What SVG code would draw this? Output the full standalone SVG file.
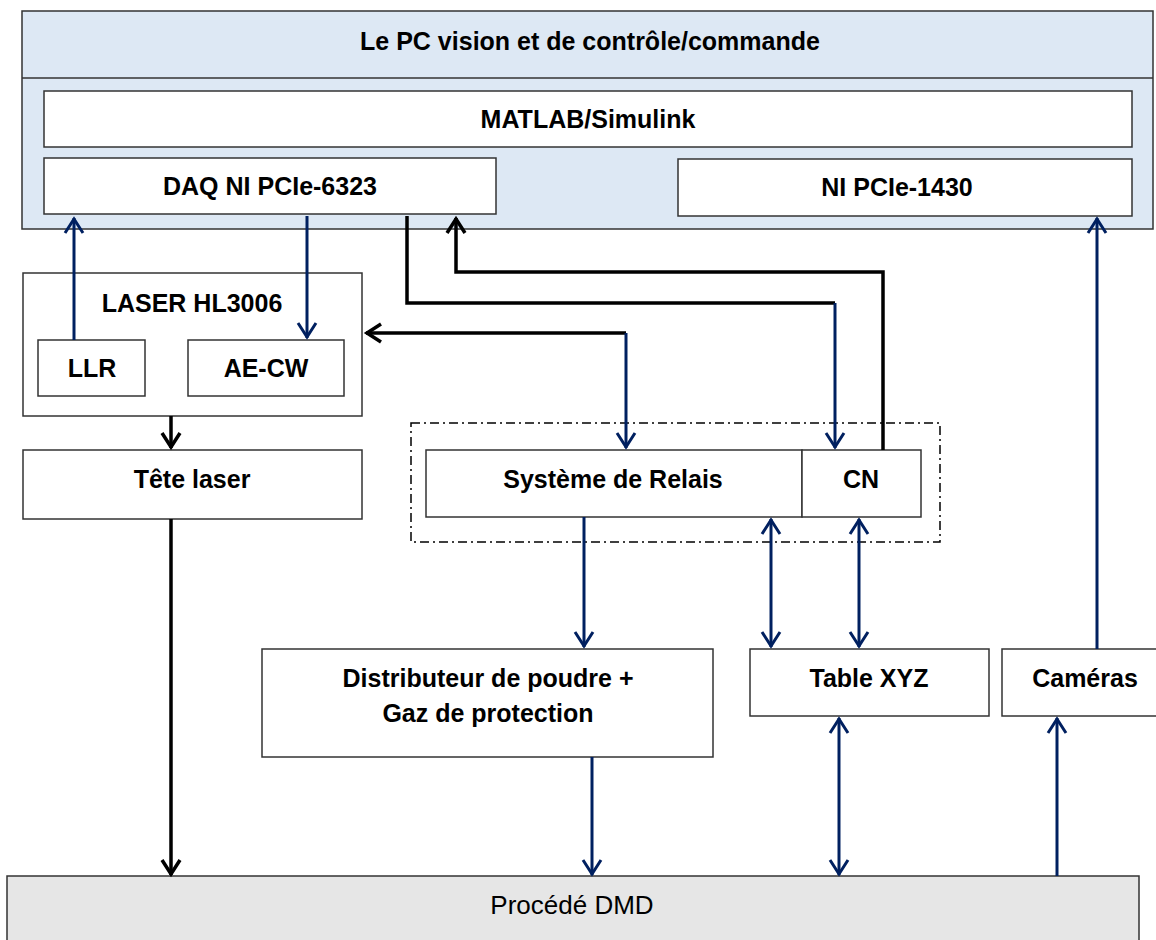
<svg xmlns="http://www.w3.org/2000/svg" width="1156" height="940" viewBox="0 0 1156 940">
<style>
.box{fill:#ffffff;stroke:#333333;stroke-width:1.5}
.lbl{font-family:"Liberation Sans",Arial,sans-serif;font-weight:bold;font-size:25px;fill:#000000;text-anchor:middle}
.reg{font-family:"Liberation Sans",Arial,sans-serif;font-size:26px;fill:#000000;text-anchor:middle}
.bl{fill:none;stroke:#002060;stroke-width:3}
.bk{fill:none;stroke:#000000;stroke-width:3.5}
</style>
<defs>
<marker id="ab" markerUnits="userSpaceOnUse" markerWidth="40" markerHeight="40" viewBox="-20 -20 40 40" refX="1" refY="0" orient="auto-start-reverse" overflow="visible">
<path d="M-14,-9 L0,0 L-14,9" fill="none" stroke="#002060" stroke-width="3"/>
</marker>
<marker id="ak" markerUnits="userSpaceOnUse" markerWidth="40" markerHeight="40" viewBox="-20 -20 40 40" refX="1" refY="0" orient="auto-start-reverse" overflow="visible">
<path d="M-14,-9 L0,0 L-14,9" fill="none" stroke="#000000" stroke-width="3.5"/>
</marker>
</defs>
<rect width="1156" height="940" fill="#ffffff"/>

<g id="pc">
<rect x="22" y="11" width="1131" height="218" fill="#dde8f4" stroke="#333333" stroke-width="1.5"/>
<line x1="22" y1="78" x2="1153" y2="78" stroke="#333333" stroke-width="1.5"/>
<text class="lbl" x="590" y="50">Le PC vision et de contrôle/commande</text>
</g>
<g id="matlab">
<rect class="box" x="44" y="91" width="1088" height="56"/>
<text class="lbl" x="588" y="128">MATLAB/Simulink</text>
</g>
<g id="daq">
<rect class="box" x="44" y="158" width="452" height="56"/>
<text class="lbl" x="270" y="195">DAQ NI PCIe-6323</text>
</g>
<g id="ni1430">
<rect class="box" x="678" y="159" width="454" height="57"/>
<text class="lbl" x="897" y="196">NI PCIe-1430</text>
</g>
<g id="laser">
<rect class="box" x="23" y="273" width="339" height="143"/>
<text class="lbl" x="192" y="312">LASER HL3006</text>
</g>
<g id="llr">
<rect class="box" x="38" y="340" width="107" height="56"/>
<text class="lbl" x="92" y="377">LLR</text>
</g>
<g id="aecw">
<rect class="box" x="188" y="340" width="156" height="56"/>
<text class="lbl" x="266" y="377">AE-CW</text>
</g>
<g id="tete">
<rect class="box" x="23" y="450" width="339" height="69"/>
<text class="lbl" x="192" y="488">Tête laser</text>
</g>
<g id="groupe">
<rect x="411" y="423" width="529" height="119" fill="none" stroke="#000000" stroke-width="1.5" stroke-dasharray="9,4,2,4"/>
</g>
<g id="relais">
<rect class="box" x="426" y="450" width="376" height="67"/>
<text class="lbl" x="613" y="488">Système de Relais</text>
</g>
<g id="cn">
<rect class="box" x="802" y="450" width="119" height="67"/>
<text class="lbl" x="861" y="488">CN</text>
</g>
<g id="distributeur">
<rect class="box" x="262" y="649" width="451" height="108"/>
<text class="lbl" x="488" y="687">Distributeur de poudre +</text>
<text class="lbl" x="488" y="722">Gaz de protection</text>
</g>
<g id="table">
<rect class="box" x="750" y="649" width="239" height="67"/>
<text class="lbl" x="869" y="687">Table XYZ</text>
</g>
<g id="cameras">
<rect class="box" x="1002" y="649" width="170" height="67"/>
<text class="lbl" x="1085" y="687">Caméras</text>
</g>
<g id="dmd">
<rect x="7" y="876" width="1132" height="80" fill="#e6e6e6" stroke="#333333" stroke-width="1.5"/>
<text class="reg" x="572" y="914">Procédé DMD</text>
</g>

<g id="connectors">
<line class="bl" x1="74" y1="340" x2="74" y2="218" marker-end="url(#ab)"/>
<line class="bl" x1="307" y1="216" x2="307" y2="338" marker-end="url(#ab)"/>
<polyline class="bk" points="407,216 407,303 835,303"/>
<line class="bl" x1="835" y1="303" x2="835" y2="448" marker-end="url(#ab)"/>
<polyline class="bk" points="883,450 883,272 456,272 456,218" marker-end="url(#ak)"/>
<line class="bk" x1="626" y1="333" x2="366" y2="333" marker-end="url(#ak)"/>
<line class="bl" x1="626" y1="333" x2="626" y2="448" marker-end="url(#ab)"/>
<line class="bk" x1="171" y1="416" x2="171" y2="448" marker-end="url(#ak)"/>
<line class="bk" x1="171" y1="519" x2="171" y2="875" marker-end="url(#ak)"/>
<line class="bl" x1="584" y1="517" x2="584" y2="647" marker-end="url(#ab)"/>
<line class="bl" x1="771" y1="519" x2="771" y2="647" marker-start="url(#ab)" marker-end="url(#ab)"/>
<line class="bl" x1="859" y1="519" x2="859" y2="647" marker-start="url(#ab)" marker-end="url(#ab)"/>
<line class="bl" x1="592" y1="757" x2="592" y2="875" marker-end="url(#ab)"/>
<line class="bl" x1="839" y1="718" x2="839" y2="875" marker-start="url(#ab)" marker-end="url(#ab)"/>
<line class="bl" x1="1057" y1="876" x2="1057" y2="718" marker-end="url(#ab)"/>
<line class="bl" x1="1097" y1="649" x2="1097" y2="218" marker-end="url(#ab)"/>
</g>
</svg>
